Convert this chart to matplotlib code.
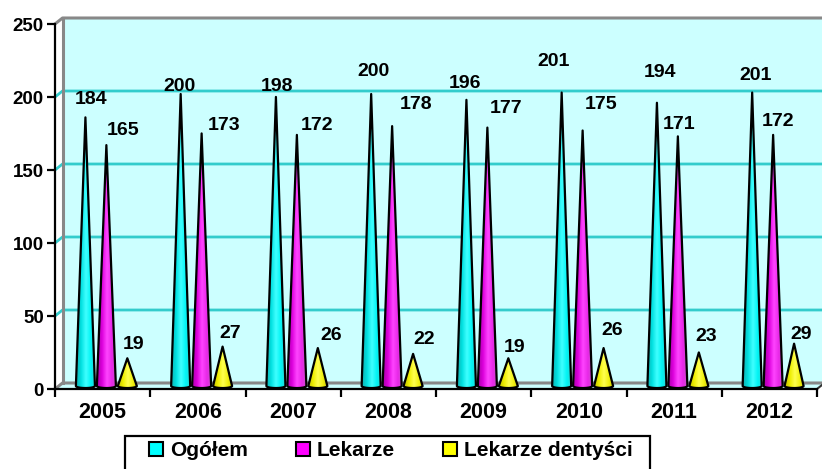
import numpy as np
import matplotlib
matplotlib.use('Agg')
import matplotlib.pyplot as plt
from matplotlib.patches import Polygon, Rectangle
from matplotlib.colors import LinearSegmentedColormap

plt.rcParams['font.family'] = ['Liberation Sans', 'DejaVu Sans']

lata = ['2005', '2006', '2007', '2008', '2009', '2010', '2011', '2012']
serie = ['Ogółem', 'Lekarze', 'Lekarze dentyści']
ogolem = [184, 200, 198, 200, 196, 201, 194, 201]
lekarze = [165, 173, 172, 178, 177, 175, 171, 172]
dentysci = [19, 27, 26, 22, 19, 26, 23, 29]

# przesuniecia etykiet (piksele) - Excel ustawial je dosc nieregularnie
etyk_dx = [[6, -1, 1, 2, -1, -8, 3, 3],
           [17, 22, 20, 24, 19, 18, 1, 5],
           [6, 8, 13, 11, 6, 9, 7, 7]]
etyk_dy = [[13, 3, 6, 18, 12, 27, 26, 13],
           [10, 3, 5, 17, 15, 22, 7, 9],
           [9, 9, 8, 10, 6, 13, 11, 5]]

kolory = ['#00ffff', '#ff00ff', '#ffff00']
gradienty = [
    ['#14b0b0', '#00e0e0', '#40ffff', '#00f4f4', '#30d0d0'],
    ['#a800a8', '#dc00dc', '#ff44ff', '#e828e8', '#c850c8'],
    ['#c0c000', '#eeee00', '#ffff50', '#f0f010', '#c8c800'],
]
teal = '#33cccc'
szary = '#888888'

fig = plt.figure(figsize=(8.22, 4.69), dpi=100)
ax = fig.add_axes([55 / 822, 80 / 469, 762 / 822, 365 / 469])
ax.patch.set_visible(False)
n = len(lata)

# glebokosc "3D" w jednostkach danych
ddx = 7.5 / 762 * n
ddy = 6 / 365 * 250

# tylna sciana i podloga
ax.add_patch(Rectangle((ddx, ddy), n, 250, facecolor='#ccffff', edgecolor='none',
                       zorder=0, clip_on=False))
ax.add_patch(Polygon([(0, 0), (n, 0), (n + ddx, ddy), (ddx, ddy)], closed=True,
                     facecolor='#ccffff', edgecolor='none', zorder=0, clip_on=False))
for y in [50, 100, 150, 200]:
    ax.plot([0, ddx, n + ddx], [y, y + ddy, y + ddy], color=teal, lw=2, zorder=1,
            clip_on=False, solid_capstyle='butt')
ax.plot([0, ddx, n + ddx], [250, 250 + ddy, 250 + ddy], color=szary, lw=2.2, zorder=1,
        clip_on=False)
ax.plot([ddx, ddx], [ddy, 250 + ddy], color=szary, lw=2.2, zorder=1, clip_on=False)
ax.plot([0, ddx, n + ddx], [0, ddy, ddy], color=szary, lw=2.2, zorder=1, clip_on=False)
ax.plot([n, n + ddx], [0, ddy], color='#333333', lw=1.5, zorder=1, clip_on=False)

# stozki
szer = 0.2
el = 1.4
yb = ddy / 2
grad = np.linspace(0, 1, 64).reshape(1, -1)
for j, wartosci in enumerate([ogolem, lekarze, dentysci]):
    cm = LinearSegmentedColormap.from_list('g%d' % j, gradienty[j])
    for i, v in enumerate(wartosci):
        xc = i + 0.5 + ddx / 2 + (j - 1) * 0.22
        t = np.linspace(0, np.pi, 20)
        luk = np.column_stack([xc + szer / 2 * np.cos(t), yb - el * np.sin(t)])
        pts = np.vstack([[xc, v + yb], luk])
        ksztalt = Polygon(pts, closed=True, facecolor='none', edgecolor='black',
                          lw=1.6, joinstyle='round', zorder=4)
        ax.add_patch(ksztalt)
        im = ax.imshow(grad, extent=[xc - szer / 2, xc + szer / 2, yb - el, v + yb],
                       aspect='auto', cmap=cm, interpolation='bilinear', zorder=3)
        im.set_clip_path(ksztalt)
        ax.annotate(str(v), xy=(xc, v + yb), xytext=(etyk_dx[j][i], etyk_dy[j][i]),
                    textcoords='offset pixels', ha='center', va='baseline',
                    fontsize=14, fontweight='bold', zorder=5)

ax.set_xlim(0, n)
ax.set_ylim(0, 250)

ax.spines['top'].set_visible(False)
ax.spines['right'].set_visible(False)
ax.spines['left'].set_linewidth(1.6)
ax.spines['bottom'].set_linewidth(1.6)
ax.spines['left'].set_zorder(6)
ax.spines['bottom'].set_zorder(6)

ax.set_yticks(range(0, 251, 50))
ax.tick_params(axis='y', direction='out', length=6, width=1.6, pad=2, labelsize=13.5)
for lab in ax.get_yticklabels():
    lab.set_fontweight('bold')

ax.set_xticks(range(n + 1))
ax.set_xticklabels([])
ax.set_xticks(np.arange(n) + 0.5, minor=True)
ax.set_xticklabels(lata, minor=True, fontsize=15.5, fontweight='bold')
ax.tick_params(axis='x', which='major', direction='out', length=6, width=1.6)
ax.tick_params(axis='x', which='minor', length=0, pad=9)

# legenda bez ramki + osobna ramka (Excel ma wiekszy margines po bokach)
uchwyty = [Rectangle((0, 0), 1, 1, facecolor=k, edgecolor='black', lw=1.5) for k in kolory]
leg = fig.legend(uchwyty, serie, loc='upper left', bbox_to_anchor=(149 / 822, 1 - 441 / 469),
                 ncol=3, frameon=False,
                 handlelength=0.67, handleheight=0.67, handletextpad=0.34,
                 columnspacing=2.3, borderpad=0, borderaxespad=0,
                 prop=dict(family='Liberation Sans', weight='bold', size=15))
fig.add_artist(Rectangle((125 / 822, -0.02), 525 / 822, 0.02 + 1 - 436 / 469,
                         transform=fig.transFigure, fill=False, edgecolor='black', lw=1.6))

fig.savefig('out.png', dpi=100)
